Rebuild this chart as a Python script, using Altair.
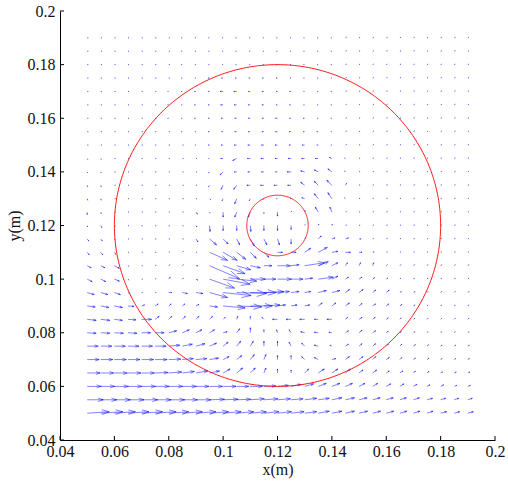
import altair as alt
import numpy as np
import pandas as pd

# ---------------- data ----------------
x_grid = [0.05, 0.055, 0.06, 0.065, 0.07, 0.075, 0.08, 0.085, 0.09, 0.095,
          0.1, 0.105, 0.11, 0.115, 0.12, 0.125, 0.13, 0.135, 0.14, 0.145,
          0.15, 0.155, 0.16, 0.165, 0.17, 0.175, 0.18, 0.185, 0.19]
y_grid = [0.05, 0.055, 0.06, 0.065, 0.07, 0.075, 0.08, 0.085, 0.09, 0.095,
          0.1, 0.105, 0.11, 0.115, 0.12, 0.125, 0.13, 0.135, 0.14, 0.145,
          0.15, 0.155, 0.16, 0.165, 0.17, 0.175, 0.18, 0.185, 0.19]

# horizontal velocity component, one row per y (bottom row first)
U = [
    [22,22,21,21,21,21,20,20,20,19,18,17,16,15,14,13,12,11,10,9,8.5,8,7.5,7,6.5,6,6,5.5,5.5],
    [16,16,16,16,16,16,16,15,15,15,15,14,14,14,13,12,12,11,10,9,8,7.5,7,6.5,6,5.5,5,4.5,4.5],
    [14,14,14,14,14,14,14,14,13,13,13,12,12,12,11,10,9,8,8,7,6,5,4.5,4,3.5,3,3,2.5,2.5],
    [13,13,13,13,13,13,13,12,12,10,7,6,5,2,0,0,4,6,6,5,4,4,3,3,2,2,2,2,2],
    [12,12,12,12,12,12,12,11,11,9,6,5,4,2,0,0,-3,-4,4,4,4,3,3,2,2,2,1.5,1.5,1.5],
    [11,11,11,11,11,11,11,10,9,7,5,4,3,0,0,-2,-3,-4,-2,3,3,3,2,2,2,1.5,1.5,1.5,1.5],
    [9,9,9,9,9,9,8,7,6,5,4,3,0,0,-1,-2,-4,-4,-3,3,3,3,2,1.5,1.5,1,1,1,1],
    [9,9,8,8,10,4,3,3,3,3,2,1,0,-2,-5,-5,-5,-4,-5,2,3,2.5,2,1.5,1.5,1,1,1,1],
    [8,8,8,6,3,3,2.5,2.5,3,8,22,25,22,16,8,6,5,4,4,4,3,3,2.5,2,1.5,1,1,1,1],
    [7,7,6,1.5,1,1,3,5,7,18,28,30,26,20,12,8,6,8,8,4,4,3,3,1.5,1.5,1,1,1,1],
    [5,5,5,1,1,1,1.5,1,2,25,27,20,15,12,14,12,8,15,6,3,3,2,1.5,1,1,1,1,1,1],
    [4,4,5,1,1,1,1,1,2,30,22,14,10,8,13,8,20,10,6,2,1.5,1,1,1,1,1,1,1,1],
    [2,2,1.5,1,1,1,1,1,1,18,14,9,6,5,5,5,6,9,6,5,3,1.5,1,1,1,1,1,1,1],
    [1.5,1.5,1,1,1,1,1,1,2,7,5,3,4,3,2,0,1,3,3,3,2,1,1,1,1,1,1,1,1],
    [0.5,1,1,1,1,1,1,1,1,0.5,0,0,0.5,0,0,0,0.5,0.5,0.5,1,1,1,1,1,1,1,1,1,1],
    [0,0.5,1,1,1,1,1,1,1.5,0.5,0,-2,-2,0,0,0.5,0.5,-3,-2,1,1,1,1,1,1,1,1,1,1],
    [0.5,0.5,1,1,1,1,1,1,1,1,-1,-2,-1,-1,-1,-1,-3,-4,-4,-1,1,1,1,1,1,1,1,1,1],
    [0.5,0.5,1,1,1,1,1,1,1,-1,-2,-3,-3.5,-3.5,-3.5,-3.5,-4,-4,-5,1,1,1,1,1,1,1,1,1,1],
    [0.5,0.5,1,1,1,1,1,1,1,-1,-3,-2.5,-2.5,-2.5,-2,-4,-4,-4,-4,-1,1,1,1,1,1,1,1,1,1],
    [0.5,0.5,1,1,1,1,1,1,1,-1,-2.5,-4,-3,-3,-2.5,-3,-3,-3,-2.5,-1,1,1,1,1,1,1,1,1,1],
    [1,1,1,1,1,1,1,1,-1,-1.5,-2,-2.5,-2.5,-2.5,-2.5,-2,-2.5,-1.5,-1,1,1,1,1,1,1,1,1,1,1],
    [1,1,1,1,1,1,1,-1,-1,-1.5,-1.5,-2,-2,-2,-2,-2,-1.5,-1.5,-1,1,1,1,1,1,1,1,1,1,1],
    [1,1,1,1,1,1,-1,-1,-1.5,-1.5,-2,-2,-2,-2,-2,-1.5,-1.5,-1,-1,1,1,1,1,1,1,1,1,1,1],
    [1,1,1,1,1,1,-1,-1,-1.5,-1.5,-2.5,-2.5,-2,-2,-1.5,-1.5,-1,-1,-1,1,1,1,1,1,1,1,1,1,1],
    [1,1,1,1,1,1,-1,-1,-1.5,-1.5,-3,-3,-2,-2,-1.5,-1.5,-1,-1,-1,1,1,1,1,1,1,1,1,1,1],
    [1,1,1,1,1,1,1,-1,-1,-1.5,-1.5,-1.5,-1.5,-1.5,-1.5,-1,-1,-1,-1,1,1,1,1,1,1,1,1,1,1],
    [1,1,1,1,1,1,1,-1,-1,-1,-1,-1,-1,-1,-1,-1,-1,-1,-1,1,1,1,1,1,1,1,1,1,1],
    [1,1,1,1,1,1,1,-1,-1,-1,-1,-1,-1,-1,-1,-1,-1,-1,-1,1,1,1,1,1,1,1,1,1,1],
    [1,1,1,1,1,1,1,-1,-1,-1,-1,-1,-1,-1,-1,-1,-1,-1,-1,1,1,1,1,1,1,1,1,1,1],
]

# vertical velocity component, one row per y (bottom row first)
V = [
    [1.5,1.5,1.5,1.5,1.5,1.5,1.5,1.5,1.5,1.5,1.5,1.5,1.5,1.5,1.5,1.5,1.5,2,2,2,2,2,2,2,2,2,1.5,1.5,1.5],
    [0,0,0,0,0,0,0,0,0,0.5,0.5,0.5,1,1,1,1,1.5,1.5,2,2,2,2,2,2,2,1.5,1.5,1.5,1.5],
    [0,0,0,0,0,0,0,0,0,0,0,0,0,0.5,1,2,2.5,3,3,3,3,3,2.5,2.5,2,1.5,1.5,1,1],
    [0,0,0,0,0,0.5,1,1.5,2,2,4,5,5,5,4,3,4,4,4,4,3,3,2,2,2,1.5,1,1,1],
    [0,0,0,0,0,0,0.5,1,1,1.5,3,4,5,5,4,4,3,2,1,3,3,3,2,2,1.5,1.5,1,1,1],
    [0,0,0,0,0,0,1,2,2.5,3,4,5,5,5,5,4,3,1,1,2,2.5,2.5,2,2,1.5,1.5,1,1,1],
    [-0.5,-0.5,-0.5,-0.5,0,0,2,3,3,3,1,4,5,3,3,3,1,0.5,0.5,2,2.5,2,1.5,1,1,1,1,1,1],
    [-1,-1,-1,-0.5,0,3,3,3,3,3,2,3,3,2,0,0,0,0,0,2,2,2,1.5,1.5,1,1,1,1,1],
    [-1,-1.5,-1.5,-0.5,1,2,2,2,1.5,-1,-2,-1,0,1,1,1,1,3,3,3,2.5,2,2,1.5,1,1,1,1,1],
    [-2,-2,-2,-1,0,0,0,-1,-1,-5,-3,-1,0,1,1,1,1,2,2,3,3,2.5,2.5,1,1,1,1,1,1],
    [-2.5,-2.5,-2,-1,0,0.5,2,1,-1,-9,-5,-2,0,0,0,0,1,2,3,2,2,1.5,1,1,1,1,1,1,1],
    [-2,-2,-2.5,-0.5,0,0.5,1,1,0,-13,-8,-4,-2,0,0,1,3,4,3,3,3,3,1,1,1,1,1,1,1],
    [-2.5,-2.5,-2,0,0,0,0.5,1,0,-8,-8,-7,-6,-5,0,0,4,5,1,0,0,0.5,0.5,0.5,0.5,0.5,0.5,0.5,0.5],
    [-2,-2,-1,0,0,0,0,0,-3,-6,-5,-6,-7,-6,-6,-5,1,3,1,1,0,0.5,0.5,0.5,0.5,0.5,0.5,0.5,0.5],
    [-1.5,-2,-0.5,-0.5,-0.5,-0.5,-0.5,-0.5,-1.5,-6,-5,-5,-6,-5,-5,-4,1,1.5,1.5,0.5,0.5,0.5,0.5,0.5,0.5,0.5,0.5,0.5,0.5],
    [-2.5,-1.5,0,0,0,0,0,0,-2,-1,-5,-5,-5,-1.5,-4,1,1.5,5,5,0.5,0.5,0.5,0.5,0.5,0.5,0.5,0.5,0.5,0.5],
    [-1.5,-1.5,0,0,0,0,0,0,0,-1,-2,-5,-2,-1,0,0.5,1,5,6,1,0.5,0.5,0.5,0.5,0.5,0.5,0.5,0.5,0.5],
    [-1.5,-1.5,0,0,0,0,0,0,0,-1.5,-4,-4,0,0,0,0,3,4,5,2,0.5,0.5,0.5,0.5,0.5,0.5,0.5,0.5,0.5],
    [-1,-1,0,0,0,0,0,0,0,-1,-3,0,0,0,0,0,1,2,3,1,0.5,0.5,0.5,0.5,0.5,0.5,0.5,0.5,0.5],
    [-1,-1,0,0,0,0,0,0,0,0,0,-2,0,0,0,0,0,0,1,0.5,0.5,0.5,0.5,0.5,0.5,0.5,0.5,0.5,0.5],
    [0,0,0,0,0,0,0,0,0,0,0,0,0,0,0,0,0,0,0,0.5,0.5,0.5,0.5,0.5,0.5,0.5,0.5,0.5,0.5],
    [0,0,0,0,0,0,0,0,0,0,0,0,0,0,0,0,0,0,0,0.5,0.5,0.5,0.5,0.5,0.5,0.5,0.5,0.5,0.5],
    [0,0,0,0,0,0,0,0,0,0,0,0,0,0,0,0,0,0,0,0.5,0.5,0.5,0.5,0.5,0.5,0.5,0.5,0.5,0.5],
    [0,0,0,0,0,0,0,0,0,0,0,0,0,0,0,0,0,0,0,0.5,0.5,0.5,0.5,0.5,0.5,0.5,0.5,0.5,0.5],
    [0,0,0,0,0,0,0,0,0,0,0,0,0,0,0,0,0,0,0,0.5,0.5,0.5,0.5,0.5,0.5,0.5,0.5,0.5,0.5],
    [0,0,0,0,0,0,0,0,0,0,0,0,0,0,0,0,0,0,0,0.5,0.5,0.5,0.5,0.5,0.5,0.5,0.5,0.5,0.5],
    [0,0,0,0,0,0,0,0,0,0,0,0,0,0,0,0,0,0,0,0.5,0.5,0.5,0.5,0.5,0.5,0.5,0.5,0.5,0.5],
    [0,0,0,0,0,0,0,0,0,0,0,0,0,0,0,0,0,0,0,0.5,0.5,0.5,0.5,0.5,0.5,0.5,0.5,0.5,0.5],
    [0,0,0,0,0,0,0,0,0,0,0,0,0,0,0,0,0,0,0,0.5,0.5,0.5,0.5,0.5,0.5,0.5,0.5,0.5,0.5],
]

x_ticks = [0.04, 0.06, 0.08, 0.1, 0.12, 0.14, 0.16, 0.18, 0.2]
y_ticks = [0.04, 0.06, 0.08, 0.1, 0.12, 0.14, 0.16, 0.18, 0.2]

circle_names = ["outer", "inner"]
circle_cx = [0.12, 0.12]
circle_cy = [0.12, 0.12]
circle_r = [0.06, 0.0113]

# ---------------- layout / style ----------------
W, H = 435, 429
XMIN, XMAX, YMIN, YMAX = 0.04, 0.2, 0.04, 0.2
SX = (XMAX - XMIN) / W   # data units per pixel
SY = (YMAX - YMIN) / H
ALPHA, BETA = 0.33, 0.33  # MATLAB quiver head proportions
FONT = "Liberation Serif"

# build quiver segments (shaft + two head wings) from the vectors
segs = []
for j, yv in enumerate(y_grid):
    for i, xv in enumerate(x_grid):
        u, v = U[j][i], V[j][i]
        tx, ty = xv + u * SX, yv + v * SY
        w1x = tx - ALPHA * (u + BETA * v) * SX
        w1y = ty - ALPHA * (v - BETA * u) * SY
        w2x = tx - ALPHA * (u - BETA * v) * SX
        w2y = ty - ALPHA * (v + BETA * u) * SY
        segs.append((xv, yv, tx, ty))
        segs.append((w1x, w1y, tx, ty))
        segs.append((w2x, w2y, tx, ty))
seg_df = pd.DataFrame(segs, columns=["x", "y", "x2", "y2"])

theta = np.linspace(0, 2 * np.pi, 361)
circ_frames = []
for name, cx, cy, r in zip(circle_names, circle_cx, circle_cy, circle_r):
    circ_frames.append(pd.DataFrame({
        "x": cx + r * np.cos(theta),
        "y": cy + r * np.sin(theta),
        "k": np.arange(len(theta)),
        "c": name,
    }))
circ_df = pd.concat(circ_frames, ignore_index=True)

xscale = alt.Scale(domain=[XMIN, XMAX], nice=False, zero=False)
yscale = alt.Scale(domain=[YMIN, YMAX], nice=False, zero=False)

xaxis = alt.Axis(values=x_ticks, format="~g", title="x(m)", labelFlush=False,
                 ticks=False, tickSize=0, labelPadding=3, titlePadding=2,
                 grid=False)
yaxis = alt.Axis(values=y_ticks, format="~g", title="y(m)", labelFlush=False,
                 ticks=False, tickSize=0, labelPadding=5, titlePadding=5,
                 grid=False)

arrows = alt.Chart(seg_df).mark_rule(color="#0000ff", strokeWidth=0.55, opacity=0.9).encode(
    x=alt.X("x:Q", scale=xscale, axis=xaxis),
    y=alt.Y("y:Q", scale=yscale, axis=yaxis),
    x2="x2:Q",
    y2="y2:Q",
)

circles = alt.Chart(circ_df).mark_line(color="#ff0000", strokeWidth=0.9).encode(
    x=alt.X("x:Q", scale=xscale, axis=xaxis),
    y=alt.Y("y:Q", scale=yscale, axis=yaxis),
    detail="c:N",
    order="k:Q",
)

xt = alt.Chart(pd.DataFrame({"x": x_ticks})).mark_rule(color="black", strokeWidth=1).encode(
    x=alt.X("x:Q", scale=xscale, axis=xaxis),
    y=alt.value(H),
    y2=alt.value(H - 4),
)
yt = alt.Chart(pd.DataFrame({"y": y_ticks})).mark_rule(color="black", strokeWidth=1).encode(
    y=alt.Y("y:Q", scale=yscale, axis=yaxis),
    x=alt.value(0),
    x2=alt.value(4),
)

chart = alt.layer(arrows, circles, xt, yt).properties(
    width=W, height=H,
    padding={"left": 60, "top": 11, "right": 13, "bottom": 43},
    autosize=alt.AutoSizeParams(type="none"),
    background="white",
).configure_view(stroke=None).configure_axis(
    domainColor="black", domainWidth=1,
    labelFont=FONT, labelFontSize=16, labelColor="#111111",
    titleFont=FONT, titleFontSize=16, titleFontWeight="normal", titleColor="#111111",
)

chart.save("out.html", embed_options={"renderer": "svg", "actions": False})
